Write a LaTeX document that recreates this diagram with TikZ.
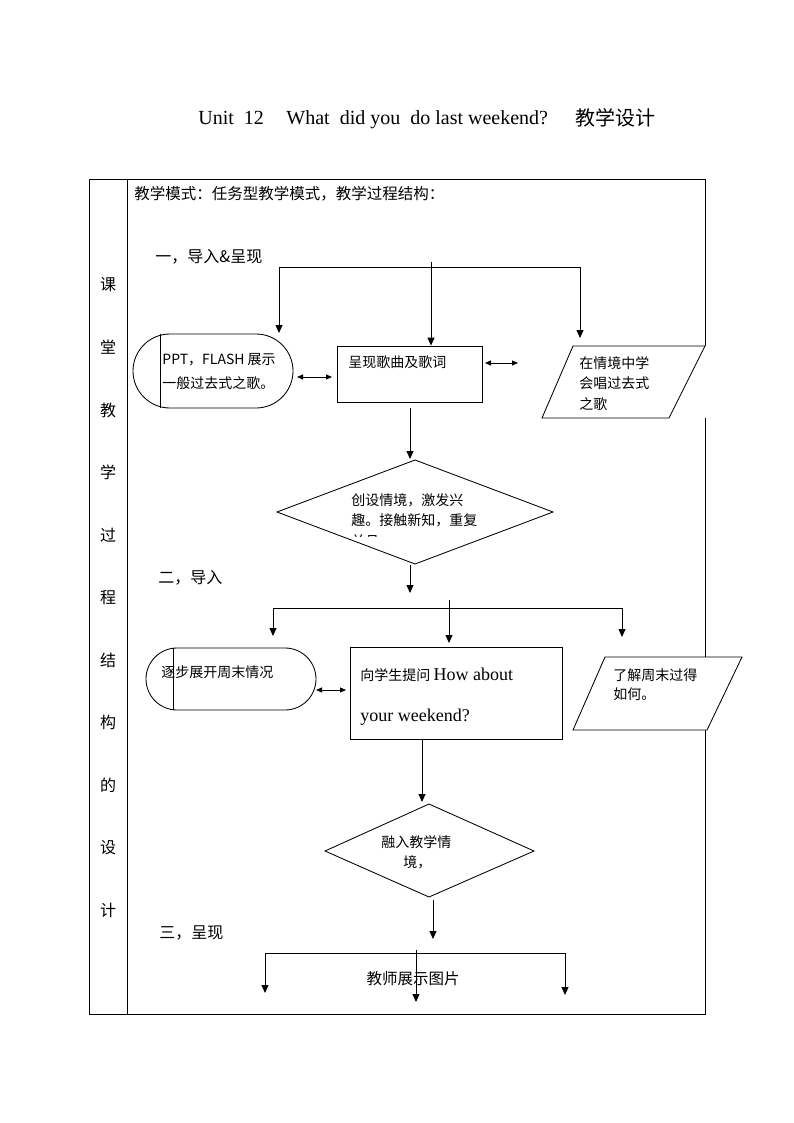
\documentclass[tikz,border=0pt]{standalone}
\usepackage{fontspec}
\setmainfont{Liberation Serif}
\newfontfamily\cjk{Noto Sans CJK SC}
\usetikzlibrary{arrows.meta,shapes.misc}
\begin{document}
\begin{tikzpicture}[x=1pt,y=-1pt,line width=0.85pt,
  tip/.style={-{Triangle[length=8pt,width=7pt]}},
  dtip/.style={{Triangle[length=6pt,width=5pt]}-{Triangle[length=6pt,width=5pt]}},
  txt/.style={inner sep=0pt,anchor=west,font=\cjk\fontsize{14}{16}\selectfont},
  lbl/.style={inner sep=0pt,anchor=west,font=\cjk\fontsize{16}{18}\selectfont},
  col/.style={inner sep=0pt,font=\cjk\fontsize{16}{18}\selectfont},
  boxshape/.style={draw,fill=white,inner sep=0pt},
  stadium/.style={draw,fill=white,rounded rectangle,inner sep=0pt},
  patch/.style={fill=white,draw=none}]
\useasboundingbox[fill=white] (0,0) rectangle (794,1123);

% title
\node[inner sep=0pt,anchor=base west,font=\fontsize{20}{24}\selectfont] (t1) at (198,125) {Unit\ \ 12};
\node[inner sep=0pt,anchor=base west,font=\fontsize{20}{24}\selectfont] (t2) at (286,125) {What\ \ did you\ \ do last weekend?};
\node[inner sep=0pt,anchor=base west,font=\cjk\fontsize{20}{24}\selectfont] (t3) at (575,126) {教学设计};

% table
\draw (89,179) rectangle (705,1014);
\draw (127,179) -- (127,1014);
\foreach \c [count=\i from 0] in {课,堂,教,学,过,程,结,构,的,设,计}
  \node[col] (c\i) at (108,285+62.5*\i) {\c};

\node[txt,font=\cjk\fontsize{15.5}{18}\selectfont] (hdr) at (134,194) {教学模式：任务型教学模式，教学过程结构：};

% ---------- section 1
\node[lbl] (sec1) at (155,257) {一，导入\&呈现};
\coordinate (h1l) at (279,267);
\coordinate (h1r) at (580,267);
\coordinate (h1m) at (431,262);
\draw (h1l) -- (h1r);

\node[stadium,minimum width=160pt,minimum height=74pt] (s1) at (213,371) {};
\draw ([xshift=-53pt]s1.north) -- ([xshift=-53pt]s1.south);
\node[txt] (s1a) at (162,360) {PPT，FLASH 展示};
\node[txt] (s1b) at (162,383) {一般过去式之歌。};

\node[boxshape,minimum width=145pt,minimum height=56pt] (r1) at (409.5,374) {};
\node[txt] (r1a) at (348,362) {呈现歌曲及歌词};

\fill[patch] (700,346) rectangle (710,418);
\coordinate (p1bl) at (542,418);
\coordinate (p1tl) at (573,346);
\coordinate (p1tr) at (705,346);
\coordinate (p1br) at (669,418);
\draw[fill=white] (p1bl) -- (p1tl) -- (p1tr) -- (p1br) -- cycle;
\node[txt] (p1a) at (579,363) {在情境中学};
\node[txt] (p1b) at (579,383) {会唱过去式};
\node[txt] (p1c) at (579,404) {之歌};

\draw[tip] (h1l) -- (h1l |- 0,333);
\draw[tip] (h1m) -- (h1m |- r1.north);
\draw[tip] (h1r) -- (h1r |- 0,338);

\coordinate (da1) at (297,377);
\coordinate (da2) at (332,377);
\draw[dtip] (da1) -- (da2);
\coordinate (db1) at (485,363);
\coordinate (db2) at (518,363);
\draw[dtip] (db1) -- (db2);

% diamond 1
\coordinate (d1l) at (277,512);
\coordinate (d1t) at (415,460);
\coordinate (d1r) at (553,512);
\coordinate (d1b) at (415,564);
\draw (d1l) -- (d1t) -- (d1r) -- (d1b) -- cycle;
\node[txt] (d1a) at (351,500) {创设情境，激发兴};
\node[txt] (d1c) at (351,520) {趣。接触新知，重复};
\begin{scope}
\clip (340,525) rectangle (470,536);
\node[txt] (d1e) at (351,541) {并且};
\end{scope}

\coordinate (a1s) at (410,408);
\coordinate (a1e) at (410,459);
\draw[tip] (a1s) -- (a1e);
\coordinate (a2s) at (410,565);
\coordinate (a2e) at (410,593);
\draw[tip] (a2s) -- (a2e);

% ---------- section 2
\node[lbl] (sec2) at (158,578) {二，导入};
\coordinate (h2l) at (273,608);
\coordinate (h2r) at (622,608);
\coordinate (h2m) at (449,600);
\draw (h2l) -- (h2r);

\node[stadium,minimum width=170pt,minimum height=62pt] (s2) at (231,679) {};
\draw ([xshift=-58pt]s2.north) -- ([xshift=-58pt]s2.south);
\node[txt] (s2a) at (161,672) {逐步展开周末情况};

\node[boxshape,minimum width=212pt,minimum height=92pt] (r2) at (456,693) {};
\node[txt] (r2a) at (360,675) {向学生提问 {\rmfamily\fontsize{18}{20}\selectfont How about}};
\node[txt,font=\fontsize{18}{20}\selectfont] (r2b) at (360,717) {your weekend?};

\fill[patch] (700,657) rectangle (710,730);
\coordinate (p2bl) at (573,730);
\coordinate (p2tl) at (605,657);
\coordinate (p2tr) at (742,657);
\coordinate (p2br) at (707,730);
\draw[fill=white] (p2bl) -- (p2tl) -- (p2tr) -- (p2br) -- cycle;
\node[txt] (p2a) at (613,675) {了解周末过得};
\node[txt] (p2b) at (613,694) {如何。};

\draw[tip] (h2l) -- (h2l |- 0,636);
\draw[tip] (h2m) -- (h2m |- 0,643);
\draw[tip] (h2r) -- (h2r |- 0,637);

\coordinate (dc1) at (316,690);
\coordinate (dc2) at (346,690);
\draw[dtip] (dc1) -- (dc2);

% diamond 2
\coordinate (a3s) at (422,739);
\coordinate (a3e) at (422,802);
\draw[tip] (a3s) -- (a3e);
\coordinate (d2l) at (325,851);
\coordinate (d2t) at (429,804);
\coordinate (d2r) at (534,851);
\coordinate (d2b) at (429,897);
\draw (d2l) -- (d2t) -- (d2r) -- (d2b) -- cycle;
\node[txt] (d2a) at (381,842) {融入教学情};
\node[txt] (d2c) at (403,862) {境，};
\coordinate (a4s) at (433,900);
\coordinate (a4e) at (433,939);
\draw[tip] (a4s) -- (a4e);

% ---------- section 3
\node[lbl] (sec3) at (159,933) {三，呈现};
\coordinate (h3l) at (265,953);
\coordinate (h3r) at (565,953);
\coordinate (h3m) at (416,950);
\draw (h3l) -- (h3r);
\node[inner sep=0pt,font=\cjk\fontsize{15.5}{18}\selectfont] (sh) at (413,979) {教师展示图片};
\draw[tip] (h3l) -- (h3l |- 0,993);
\draw[tip] (h3r) -- (h3r |- 0,995);
\draw[tip] (h3m) -- (h3m |- 0,1002);
\end{tikzpicture}
\end{document}
